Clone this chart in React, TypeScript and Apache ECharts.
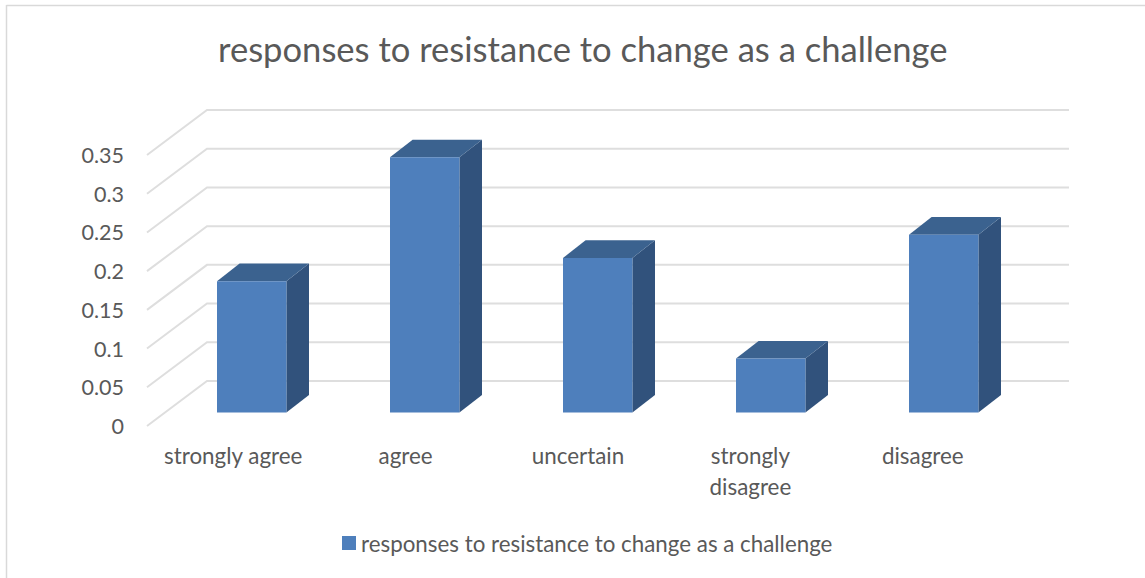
import React, { useEffect, useRef } from "react";
import * as echarts from "echarts";

const titleText = "responses to resistance to change as a challenge";
const categories = ["strongly agree", "agree", "uncertain", "strongly disagree", "disagree"];
const values = [0.17, 0.33, 0.2, 0.07, 0.23];
const yTicks = [0, 0.05, 0.1, 0.15, 0.2, 0.25, 0.3, 0.35];
const FONT = "Lato";
const TEXT = "#595959";

export default function App() {
  const ref = useRef<HTMLDivElement>(null);
  useEffect(() => {
    const chart = echarts.init(ref.current!, null, { renderer: "svg" });
    const gridRender = (params: any, api: any) => {
      const cs = params.coordSys;
      const p = api.coord([0, api.value(1)]);
      return {
        type: "polyline",
        shape: { points: [[cs.x, p[1]], [cs.x + 60, p[1] - 45], [cs.x + cs.width + 60, p[1] - 45]] },
        style: { fill: "none", stroke: "#dedede", lineWidth: 2 },
      };
    };
    const barRender = (params: any, api: any) => {
      const c = api.coord([api.value(0), 0]);
      const t = api.coord([api.value(0), api.value(1)]);
      const left = c[0] - 16.2 + api.value(0) * 0.6;
      const right = left + 69.4;
      const bottom = c[1] - 13.4;
      const top = t[1] - 13.2;
      const dx = 22.6;
      const dy = -17.6;
      return {
        type: "group",
        children: [
          {
            type: "polygon",
            shape: { points: [[right, bottom], [right + dx, bottom + dy], [right + dx, top + dy], [right, top]] },
            style: { fill: "#31527c" },
          },
          {
            type: "polygon",
            shape: { points: [[left, top], [left + dx, top + dy], [right + dx, top + dy], [right, top]] },
            style: { fill: "#3b628f" },
          },
          {
            type: "rect",
            shape: { x: left, y: top, width: right - left, height: bottom - top },
            style: { fill: "#4e7fbc" },
          },
        ],
      };
    };
    chart.setOption({
      animation: false,
      textStyle: { fontFamily: FONT },
      title: {
        text: titleText,
        left: 213,
        top: 26,
        textStyle: { fontFamily: FONT, fontSize: 34.6, fontWeight: "normal", color: TEXT },
      },
      legend: {
        data: [{ name: titleText, icon: "rect" }],
        left: 337,
        top: 527,
        itemWidth: 14,
        itemHeight: 14,
        textStyle: { fontFamily: FONT, fontSize: 22.35, color: TEXT },
      },
      grid: { left: 147, top: 155, width: 862, bottom: 152, containLabel: false },
      xAxis: {
        type: "category",
        data: categories,
        axisLine: { show: false },
        axisTick: { show: false },
        axisLabel: {
          interval: 0,
          margin: 14,
          fontFamily: FONT,
          fontSize: 22.4,
          color: TEXT,
          lineHeight: 31,
          formatter: (v: string) => (v === "strongly disagree" ? "strongly\ndisagree" : v),
        },
      },
      yAxis: {
        type: "value",
        min: 0,
        max: 0.35,
        interval: 0.05,
        axisLine: { show: false },
        axisTick: { show: false },
        splitLine: { show: false },
        axisLabel: { margin: 23, fontFamily: FONT, fontSize: 21.5, color: TEXT, padding: [2, 0, 0, 0] },
      },
      series: [
        {
          name: "walls",
          type: "custom",
          renderItem: gridRender,
          data: yTicks.map((v) => [0, v]),
          silent: true,
          z: 1,
        },
        {
          name: titleText,
          type: "custom",
          renderItem: barRender,
          data: values.map((v, i) => [i, v]),
          itemStyle: { color: "#4e7fbc" },
          z: 2,
        },
      ],
      graphic: [
        { type: "line", shape: { x1: 6.5, y1: 5.5, x2: 1145, y2: 5.5 }, style: { stroke: "#d9d9d9", lineWidth: 1.5 }, silent: true },
        { type: "line", shape: { x1: 6.5, y1: 5, x2: 6.5, y2: 578 }, style: { stroke: "#d9d9d9", lineWidth: 1.5 }, silent: true },
      ],
    });
    return () => chart.dispose();
  }, []);
  return <div ref={ref} style={{ position: "fixed", left: 0, top: 0, width: 1145, height: 578, background: "#fff" }} />;
}
